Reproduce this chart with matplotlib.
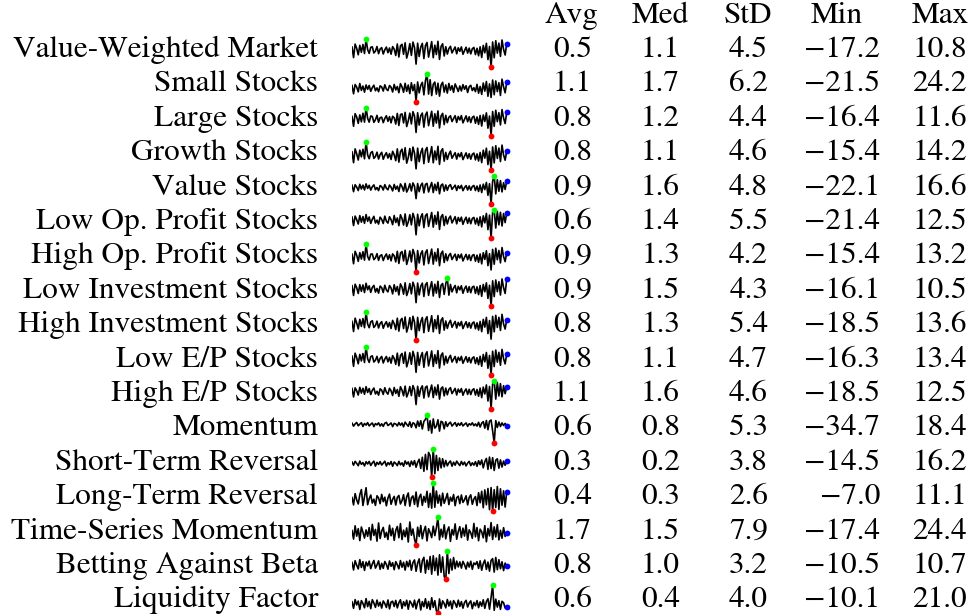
import matplotlib
matplotlib.use("Agg")
import matplotlib.pyplot as plt
import numpy as np

plt.rcParams['font.family'] = ['STIXGeneral', 'DejaVu Serif']

names = ["Value-Weighted Market", "Small Stocks", "Large Stocks", "Growth Stocks",
         "Value Stocks", "Low Op. Profit Stocks", "High Op. Profit Stocks",
         "Low Investment Stocks", "High Investment Stocks", "Low E/P Stocks",
         "High E/P Stocks", "Momentum", "Short-Term Reversal", "Long-Term Reversal",
         "Time-Series Momentum", "Betting Against Beta", "Liquidity Factor"]

headers = ["Avg", "Med", "StD", "Min", "Max"]
avg = [0.5, 1.1, 0.8, 0.8, 0.9, 0.6, 0.9, 0.9, 0.8, 0.8, 1.1, 0.6, 0.3, 0.4, 1.7, 0.8, 0.6]
med = [1.1, 1.7, 1.2, 1.1, 1.6, 1.4, 1.3, 1.5, 1.3, 1.1, 1.6, 0.8, 0.2, 0.3, 1.5, 1.0, 0.4]
std = [4.5, 6.2, 4.4, 4.6, 4.8, 5.5, 4.2, 4.3, 5.4, 4.7, 4.6, 5.3, 3.8, 2.6, 7.9, 3.2, 4.0]
mins = [-17.2, -21.5, -16.4, -15.4, -22.1, -21.4, -15.4, -16.1, -18.5, -16.3, -18.5,
        -34.7, -14.5, -7.0, -17.4, -10.5, -10.1]
maxs = [10.8, 24.2, 11.6, 14.2, 16.6, 12.5, 13.2, 10.5, 13.6, 13.4, 12.5,
        18.4, 16.2, 11.1, 24.4, 10.7, 21.0]

market = [3.2, -7.4, 6.1, 1.8, -4.6, 4.9, -2.1, 5.7, -3.3, 10.8,
          0.6, -3.2, 2.9, 3.4, -2.8, -0.9, 3.7, -3.5, 1.2, 2.6,
          -3.8, 0.4, 3.1, -2.5, 2.2, -4.0, 3.6, 1.0, -5.3, 6.2,
          -6.8, 4.3, 5.9, -4.1, 7.4, -7.9, -2.0, 6.6, -5.2, 8.1,
          2.7, -13.9, 7.0, -6.3, 3.1, 6.8, -8.4, 4.6, 7.7, -6.9,
          0.9, 8.6, -7.5, 5.0, -4.3, 8.9, -9.2, 3.8, 6.4, -5.8,
          3.5, -3.9, 1.6, 3.9, -2.7, 0.3, 3.2, -3.6, 2.4, -1.1,
          3.3, -4.1, -0.5, 3.0, -2.9, 2.1, -3.7, 1.5, 2.8, -4.4,
          1.9, -5.6, 3.4, -7.3, 4.8, -2.6, 6.9, -9.4, 3.7, -17.2,
          8.2, -7.6, 9.5, -2.9, 7.1, -6.2, 10.2, 0.8, -4.8, 6.6]
small = [4.8, -8.9, 6.3, 2.1, -5.7, 7.9, -3.4, 3.8, -6.2, 5.5,
         -1.6, 4.7, -4.8, 1.3, 5.2, -3.9, 0.8, -5.5, 4.1, 2.3,
         -4.4, 5.8, -1.2, -3.7, 4.6, 1.9, -5.9, 6.4, -2.6, 3.0,
         -7.1, 7.6, 2.5, -6.4, 8.3, -4.9, 5.4, -8.6, 9.1, -3.8,
         6.2, -21.5, 10.4, -7.3, 4.9, 9.8, -10.6, 12.3, 24.2, -9.4,
         14.1, -11.8, 6.7, 10.2, -9.5, 8.4, -12.7, 5.3, 9.9, -6.1,
         5.6, -7.7, 8.0, -2.9, 4.4, -6.5, 7.2, 1.4, -5.1, 3.9,
         -4.2, 6.1, -1.5, 4.3, -6.8, 2.7, 5.0, -3.6, 1.1, -5.4,
         6.5, -7.9, 3.1, -9.8, 8.7, -4.6, 11.2, -12.9, 7.3, -14.8,
         13.6, -10.4, 12.1, -5.3, 9.2, -11.6, 15.0, 2.4, -7.2, 10.0]
large = [2.9, -7.0, 5.6, 2.2, -4.1, 4.4, -2.6, 6.0, -2.9, 11.6,
         0.9, -2.9, 3.3, 2.8, -3.1, -0.5, 3.9, -3.0, 1.6, 2.1,
         -3.4, 0.8, 3.5, -2.1, 2.6, -3.6, 3.0, 1.4, -4.8, 5.8,
         -6.2, 4.7, 5.4, -3.7, 6.9, -7.3, -1.6, 6.1, -4.7, 7.6,
         3.1, -13.2, 6.5, -5.8, 3.6, 6.2, -7.9, 4.1, 7.2, -6.4,
         1.3, 8.0, -7.0, 5.5, -3.8, 8.3, -8.7, 3.3, 5.9, -5.3,
         3.9, -3.4, 2.0, 3.5, -2.3, 0.7, 3.6, -3.2, 2.8, -0.7,
         3.7, -3.6, -0.1, 3.4, -2.5, 2.5, -3.3, 1.9, 3.1, -4.0,
         2.3, -5.1, 3.8, -6.8, 4.3, -2.2, 6.4, -8.9, 3.2, -16.4,
         7.7, -7.1, 9.0, -2.4, 6.6, -5.7, 9.7, 1.2, -4.3, 7.1]
growth = [3.6, -7.9, 6.7, 1.4, -5.1, 5.4, -1.7, 6.3, -3.8, 14.2,
          0.2, -3.7, 2.5, 3.9, -3.3, -1.4, 3.2, -4.0, 0.7, 3.1,
          -4.3, -0.1, 2.7, -3.0, 1.7, -4.5, 4.1, 0.5, -5.8, 6.7,
          -7.3, 3.8, 6.4, -4.6, 7.9, -8.4, -2.5, 7.1, -5.7, 8.6,
          2.2, -14.4, 7.5, -6.8, 2.6, 7.3, -8.9, 5.1, 8.2, -7.4,
          0.4, 9.1, -8.0, 4.5, -4.8, 9.4, -9.7, 4.3, 6.9, -6.3,
          3.0, -4.4, 1.1, 4.4, -3.2, -0.2, 2.7, -4.1, 1.9, -1.6,
          2.8, -4.6, -1.0, 2.5, -3.4, 1.6, -4.2, 1.0, 2.3, -4.9,
          1.4, -6.1, 2.9, -7.8, 5.3, -3.1, 7.4, -9.9, 4.2, -15.4,
          8.7, -8.1, 10.0, -3.4, 7.6, -6.7, 10.7, 0.3, -5.3, 4.4]
value = [3.8, -5.2, 4.4, 1.2, -3.6, 5.0, -1.5, 3.9, -2.8, 5.6,
         -0.7, 3.6, -3.0, 1.7, 4.2, -2.4, 0.6, -3.7, 3.3, 1.8,
         -2.9, 4.5, -0.4, -2.6, 3.9, 1.1, -4.1, 4.8, -1.8, 2.5,
         -5.0, 5.6, 1.9, -4.4, 6.3, -5.7, -1.2, 5.8, -4.2, 6.9,
         2.3, -14.8, 6.1, -5.1, 3.4, 6.6, -6.9, 4.9, 6.3, -5.6,
         1.4, 7.5, -6.4, 5.2, -3.5, 7.7, -8.1, 3.6, 5.4, -4.5,
         4.1, -3.3, 2.7, 4.6, -2.0, 0.9, 3.8, -3.5, 3.0, -0.6,
         3.6, -3.8, 0.5, 3.2, -2.9, 2.8, -3.1, 2.0, 3.4, -3.6,
         2.6, -4.9, 4.1, -6.4, 5.2, -2.4, 7.6, -10.2, 5.9, -22.1,
         9.3, 16.6, -8.2, 11.4, -4.6, 10.1, -5.5, 7.2, -2.1, 9.6]
low_op = [4.1, -6.3, 5.2, 0.9, -4.4, 5.8, -2.2, 4.6, -3.6, 7.0,
          -1.1, 4.1, -3.7, 1.4, 4.9, -3.2, 0.3, -4.5, 3.9, 1.2,
          -3.8, 5.1, -1.0, -3.3, 4.4, 0.8, -5.2, 5.9, -2.6, 2.9,
          -6.4, 6.8, 2.2, -5.6, 7.8, -7.2, -1.9, 6.9, -5.4, 8.5,
          2.6, -17.5, 7.4, -6.6, 3.8, 8.0, -8.8, 5.6, 7.9, -7.3,
          1.5, 9.6, -8.2, 6.0, -4.6, 10.3, -11.0, 4.2, 7.0, -6.2,
          4.8, -4.3, 2.4, 5.2, -3.1, 0.6, 4.5, -4.2, 3.5, -1.2,
          3.9, -4.8, 0.2, 3.8, -3.6, 2.9, -4.1, 2.3, 3.6, -4.4,
          2.7, -6.2, 4.3, -7.9, 5.5, -3.0, 8.4, -11.2, 6.4, -21.4,
          9.9, 12.5, -9.3, 10.9, -5.4, 9.8, -6.8, 8.3, -2.7, 9.4]
high_op = [3.0, -6.8, 5.9, 1.9, -4.3, 4.6, -2.0, 5.5, -3.1, 13.2,
           0.7, -3.0, 3.0, 3.2, -2.6, -0.8, 3.5, -3.3, 1.4, 2.4,
           -3.5, 0.6, 3.2, -2.3, 2.4, -3.8, 3.3, 1.2, -4.9, 5.9,
           -6.5, 4.1, 5.6, -3.9, 7.0, -7.5, -1.8, 6.3, -4.9, 7.8,
           2.9, -15.4, 6.7, -6.0, 3.3, 6.4, -8.0, 4.4, 7.4, -6.6,
           1.1, 8.2, -7.2, 4.8, -4.0, 8.5, -8.8, 3.6, 6.1, -5.5,
           3.4, -3.7, 1.8, 3.7, -2.5, 0.5, 3.0, -3.4, 2.6, -0.9,
           3.1, -3.9, -0.3, 2.8, -2.7, 2.3, -3.5, 1.7, 2.6, -4.2,
           2.0, -5.3, 3.2, -6.9, 4.5, -2.4, 6.5, -8.7, 3.5, -13.1,
           7.9, -7.3, 9.1, -2.7, 6.8, -5.9, 9.8, 0.6, -4.6, 4.6]
low_inv = [3.5, -5.8, 4.9, 1.6, -3.9, 4.5, -1.9, 4.2, -3.0, 5.8,
           -0.4, 3.3, -2.9, 1.9, 3.8, -2.6, 0.9, -3.6, 3.1, 1.6,
           -3.0, 3.9, -0.6, -2.4, 3.6, 1.3, -4.3, 4.4, -2.0, 2.7,
           -5.3, 5.2, 2.1, -4.6, 6.2, -5.9, -1.4, 5.5, -4.3, 6.8,
           2.4, -12.6, 6.0, -5.3, 3.0, 5.9, -6.8, 4.3, 6.4, -5.7,
           1.6, 7.3, -6.3, 4.9, -3.6, 7.6, -7.7, 3.9, 5.6, -4.8,
           5.3, 10.5, -5.5, 4.7, -2.4, 1.2, 3.7, -3.3, 2.9, -0.5,
           3.4, -3.7, 0.6, 3.1, -2.8, 2.6, -3.2, 2.2, 3.0, -3.8,
           2.4, -5.0, 3.6, -6.6, 4.7, -2.3, 6.2, -8.6, 3.9, -16.1,
           8.1, -6.9, 8.9, -2.2, 7.3, -5.4, 9.9, 1.5, -3.9, 9.4]
high_inv = [3.4, -8.3, 7.0, 1.5, -5.3, 5.7, -2.4, 6.6, -3.9, 13.6,
            0.3, -3.9, 2.8, 4.1, -3.6, -1.3, 3.6, -4.2, 0.9, 3.0,
            -4.6, 0.1, 3.0, -3.1, 2.0, -4.8, 4.5, 0.6, -6.1, 7.0,
            -7.8, 4.4, 6.8, -4.9, 8.4, -8.9, -2.7, 7.6, -6.0, 9.2,
            2.5, -18.5, 8.0, -7.3, 3.0, 7.8, -9.6, 5.4, 8.7, -8.0,
            0.6, 9.8, -8.6, 5.3, -5.1, 10.0, -10.4, 4.6, 7.4, -6.7,
            3.8, -4.7, 1.3, 4.6, -3.4, 0.1, 3.3, -4.3, 2.2, -1.7,
            3.2, -4.9, -0.8, 2.9, -3.7, 1.9, -4.4, 1.2, 2.7, -5.1,
            1.7, -6.6, 3.3, -8.4, 5.6, -3.2, 7.9, -10.6, 4.3, -17.0,
            9.1, -8.6, 10.3, -3.6, 8.0, -7.0, 11.4, 0.4, -5.5, 5.2]
low_ep = [3.3, -7.6, 6.4, 1.6, -4.9, 5.1, -1.9, 6.0, -3.5, 13.4,
          0.4, -3.4, 2.7, 3.6, -3.0, -1.1, 3.0, -3.7, 0.9, 2.9,
          -4.0, 0.2, 2.9, -2.8, 1.9, -4.2, 3.8, 0.7, -5.5, 6.4,
          -7.0, 3.9, 6.1, -4.3, 7.6, -8.1, -2.3, 6.8, -5.4, 8.3,
          2.4, -13.9, 7.2, -6.5, 2.8, 7.0, -8.6, 4.8, 7.9, -7.1,
          0.6, 8.8, -7.7, 4.7, -4.5, 9.1, -9.4, 4.0, 6.6, -6.0,
          3.2, -4.1, 1.3, 4.1, -3.0, 0.0, 2.9, -3.8, 2.1, -1.4,
          3.0, -4.3, -0.7, 2.7, -3.1, 1.8, -3.9, 1.2, 2.5, -4.6,
          1.6, -5.8, 3.1, -7.5, 5.0, -2.8, 7.1, -9.6, 4.0, -16.3,
          8.4, -7.8, 9.7, -3.1, 7.3, -6.4, 10.4, 0.5, -5.0, 5.7]
high_ep = [4.0, -5.5, 4.6, 1.4, -3.4, 5.2, -1.2, 4.1, -2.5, 5.9,
           -0.5, 3.8, -2.8, 1.9, 4.4, -2.2, 0.8, -3.5, 3.5, 2.0,
           -2.7, 4.7, -0.2, -2.4, 4.1, 1.3, -3.9, 5.0, -1.6, 2.7,
           -4.8, 5.8, 2.1, -4.2, 6.5, -5.5, -1.0, 6.0, -4.0, 7.1,
           2.5, -13.9, 6.3, -4.9, 3.6, 6.8, -6.7, 5.1, 6.5, -5.4,
           1.6, 7.7, -6.2, 5.4, -3.3, 7.9, -7.9, 3.8, 5.6, -4.3,
           4.3, -3.1, 2.9, 4.8, -1.8, 1.1, 4.0, -3.3, 3.2, -0.4,
           3.8, -3.6, 0.7, 3.4, -2.7, 3.0, -2.9, 2.2, 3.6, -3.4,
           2.8, -4.7, 4.3, -6.2, 5.4, -2.2, 7.8, -10.0, 6.1, -18.5,
           8.8, 12.5, -7.9, 10.6, -4.4, 9.3, -5.3, 7.0, -1.9, 5.4]
momentum = [2.6, -3.1, 1.2, 3.9, -2.4, 0.8, 3.4, -3.7, 2.0, -1.1,
            3.6, -2.6, 0.5, 2.9, -3.9, 1.8, -0.6, 3.2, -2.8, 1.4,
            -3.4, 2.5, 4.1, -1.9, 0.3, 3.0, -4.0, 2.2, 1.1, -2.7,
            3.7, -1.4, 2.8, -4.4, 4.6, 0.2, -3.2, 5.1, -5.3, 3.3,
            1.5, -6.2, 6.6, -3.5, 7.2, -8.4, 5.9, 9.8, 18.4, -11.3,
            7.4, -16.2, 10.6, -6.8, -3.1, 9.0, -12.5, 6.1, 4.3, -8.2,
            5.2, -3.6, 1.9, 4.5, -2.9, 0.6, 3.8, -3.3, 2.4, -1.5,
            3.5, -2.7, 0.4, 3.0, -3.5, 1.6, -0.9, 3.3, -2.2, 1.2,
            -3.0, 4.2, -4.7, 2.6, 5.5, -6.9, 7.7, -9.8, 6.3, 8.6,
            -12.1, -34.7, 7.4, -5.6, 4.8, -3.7, 3.1, -2.0, 2.2, -2.4]
st_rev = [1.9, -1.6, 2.6, 0.4, -2.2, 2.9, -0.7, 1.3, -2.4, 2.2,
          -0.3, 2.5, -1.9, 0.9, 2.8, -2.6, 1.5, -0.8, 2.3, -1.4,
          0.6, 2.7, -2.5, 1.2, -1.0, 2.4, -2.8, 1.9, 0.3, -2.1,
          2.6, -1.2, 1.0, -2.7, 3.1, -0.5, 2.0, -3.0, 2.9, -1.3,
          3.4, -3.8, 1.5, 4.9, -5.2, 7.1, -8.3, 10.2, -6.5, 12.4,
          8.8, -14.5, 16.2, -11.0, 9.1, -7.4, 6.3, -4.6, 5.5, -3.4,
          3.6, -2.3, 1.1, 3.0, -2.7, 1.7, -1.6, 2.8, 0.2, -2.0,
          2.5, -1.1, 1.8, -2.4, 0.7, 2.6, -2.1, 1.0, -1.5, 2.3,
          -2.8, 3.3, -1.0, 4.1, -4.5, 2.4, 5.8, -6.2, 7.3, -5.3,
          6.6, -7.4, 3.9, 5.4, -4.9, 4.2, -3.6, 2.9, -1.7, 2.7]
lt_rev = [1.8, -3.0, 4.3, 0.2, -2.4, 3.6, 6.9, -3.4, 2.3, 8.1,
          -2.9, 1.0, 3.4, -1.8, 0.7, -3.3, 2.9, 1.5, -2.2, 3.8,
          -0.9, 2.0, -3.6, 1.4, 4.0, -2.6, 0.6, 2.5, -3.1, 1.9,
          3.1, -2.4, -0.2, 3.6, -3.4, 2.2, 4.7, -3.8, 1.6, 2.8,
          -2.7, 5.3, -4.2, 1.8, 3.9, -3.3, 2.5, -1.2, 5.8, -4.6,
          4.4, -5.1, 11.1, -4.5, 6.0, -1.9, 3.3, -3.6, 4.6, -2.0,
          0.9, 4.4, -2.8, 2.0, -0.6, 3.7, -3.5, 1.7, 2.6, -2.2,
          3.4, -1.4, 0.3, 2.9, -3.0, 1.8, 3.5, -2.6, 0.8, 2.4,
          -3.4, 4.9, -1.6, 5.8, -4.8, 6.7, -2.9, 7.6, -6.1, 8.2,
          -7.0, 6.8, -4.7, 8.9, -5.9, 7.4, -3.2, 6.1, -4.4, 5.3]
ts_mom = [4.5, -8.2, 11.6, -3.9, 7.3, -10.5, 9.8, 2.1, -6.7, 5.4,
          -4.1, 8.9, -9.6, 13.7, -2.8, 6.2, -11.3, 15.8, -7.4, 3.6,
          9.2, -5.5, 1.8, -8.9, 12.4, -3.3, 7.9, -10.1, 4.7, 10.6,
          -6.2, 14.9, -9.0, 5.1, -4.7, 8.4, -12.6, 17.3, -2.5, 6.8,
          -8.1, -17.4, 9.5, -4.4, 12.1, -7.7, 3.9, 10.8, -10.9, 7.2,
          1.4, -6.0, 11.0, -3.1, 8.6, 24.4, -9.3, 6.5, -5.2, 13.1,
          -7.9, 4.2, 9.9, -11.6, 6.0, -2.2, 14.4, -8.5, 3.0, 10.3,
          -5.9, 8.1, -3.7, 12.9, -9.8, 5.6, 1.1, -7.1, 15.1, -4.8,
          9.0, -10.7, 6.6, 2.7, -6.4, 11.8, -12.2, 7.6, -3.5, 16.4,
          -8.8, 10.0, -5.0, 13.3, -9.4, 4.9, -6.9, 8.8, -4.3, 0.6]
bab = [2.3, -3.4, 3.6, 0.2, -2.6, 4.4, -1.5, 2.9, -3.7, 2.6,
       -0.3, 3.3, -2.4, 1.2, 3.8, -2.0, 0.4, 3.5, -2.9, 1.6,
       -2.2, 3.0, 0.8, -2.8, 3.4, -0.6, 2.1, -3.2, 2.9, 0.5,
       -2.5, 3.7, -1.3, 2.4, -3.5, 3.1, -0.9, 3.9, -3.6, 2.2,
       4.2, -4.4, 1.7, 5.0, -5.1, 3.6, 6.2, -5.8, 4.1, -3.0,
       6.8, -6.6, 7.4, -3.9, 5.6, -7.3, 8.1, -5.2, 6.5, -8.4,
       -10.5, 10.7, -6.1, 4.8, -3.5, 6.0, -2.4, 3.3, -1.1, 2.7,
       -2.0, 3.1, 0.6, -2.7, 2.5, -1.2, 3.2, -2.9, 1.9, 0.7,
       2.9, -2.2, 3.5, -3.6, 1.4, 4.1, -3.0, 2.6, -4.3, 3.8,
       5.2, -5.0, 6.1, -3.2, 4.4, -2.5, 2.8, -3.9, 1.8, -0.5]
liquidity = [2.9, -4.4, 5.3, -0.6, 3.7, -5.6, 4.2, 1.1, -3.8, 6.4,
             -2.5, 3.4, -4.7, 5.2, 1.5, -3.3, 4.8, -1.9, 2.4, -4.1,
             3.8, 0.9, -3.4, 4.9, -5.0, 2.6, 3.5, -2.4, 4.4, -3.9,
             1.8, 5.1, -4.5, 3.0, -1.7, 4.6, -5.4, 3.8, 1.2, -3.0,
             4.7, -5.0, 2.4, 5.7, -6.2, 3.1, -2.6, 6.3, -4.3, 3.2,
             -5.7, 7.4, -3.3, 4.1, -7.2, -10.1, 6.0, -4.5, 3.9, 1.0,
             -3.8, 5.4, -1.8, 3.6, -4.9, 4.2, 1.3, -3.2, 4.7, -2.3,
             3.1, -4.2, 2.0, 4.5, -2.9, 1.5, 3.9, -4.8, 2.2, -1.6,
             4.2, -3.6, 2.8, -2.0, 5.1, -4.4, 3.2, 6.3, -5.3, 7.7,
             21.0, -6.6, 5.8, -3.0, 4.1, -5.5, 3.4, 1.8, -4.0, -2.6]

series = [market, small, large, growth, value, low_op, high_op, low_inv, high_inv,
          low_ep, high_ep, momentum, st_rev, lt_rev, ts_mom, bab, liquidity]

W, H = 974, 615
fig = plt.figure(figsize=(W / 100, H / 100), dpi=100)


def fx(px):
    return px / W


def fy(py):
    return 1 - py / H


FS = 22.5
row0 = 57.0
step = 34.4
label_right = 318
col_right = [592, 680, 768, 880, 967]
col_center = [571.5, 660, 747.5, 837, 940]
spark_left, spark_right = 352, 506.7
spark_row0, spark_step = 53.4, 34.13
spark_h = 28


def fmt(v):
    return f"{v:.1f}".replace('-', '\u2212')


for j, h in enumerate(headers):
    fig.text(fx(col_center[j]), fy(row0 - step), h, ha='center', va='baseline', fontsize=FS)

cols = [avg, med, std, mins, maxs]
for i, name in enumerate(names):
    yb = row0 + step * i
    fig.text(fx(label_right), fy(yb), name, ha='right', va='baseline', fontsize=FS)
    for j, col in enumerate(cols):
        fig.text(fx(col_right[j]), fy(yb), fmt(col[i]), ha='right', va='baseline', fontsize=FS)

    s = np.asarray(series[i], dtype=float)
    cy = spark_row0 + spark_step * i
    ax = fig.add_axes([fx(spark_left), fy(cy + spark_h / 2),
                       (spark_right - spark_left) / W, spark_h / H])
    x = np.arange(len(s))
    ax.plot(x, s, color='black', lw=1.2)
    imax, imin = int(np.argmax(s)), int(np.argmin(s))
    ax.plot([imax], [s[imax]], 'o', color='#00ff00', ms=4.2, mew=0, clip_on=False, zorder=3)
    ax.plot([imin], [s[imin]], 'o', color='#ff0000', ms=4.2, mew=0, clip_on=False, zorder=3)
    ax.plot([x[-1]], [s[-1]], 'o', color='#0000ff', ms=4.2, mew=0, clip_on=False, zorder=3)
    ax.set_xlim(0, len(s) - 1)
    ax.set_ylim(s.min(), s.max())
    ax.axis('off')

fig.savefig('out.png', dpi=100)
